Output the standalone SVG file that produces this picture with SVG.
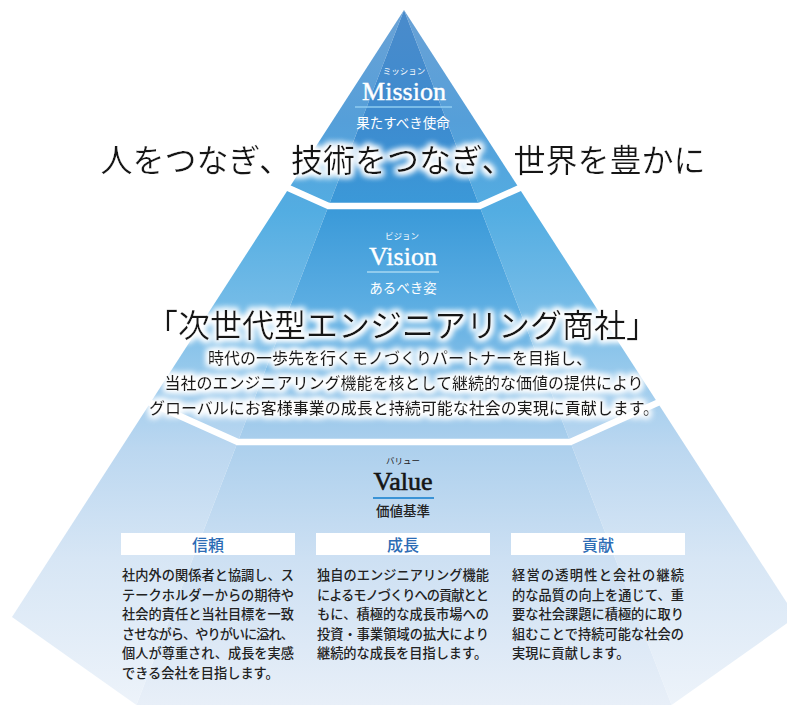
<svg xmlns="http://www.w3.org/2000/svg" width="787" height="705" viewBox="0 0 787 705">
<defs>
  <linearGradient id="gFront" gradientUnits="userSpaceOnUse" x1="0" y1="10" x2="0" y2="705">
    <stop offset="0" stop-color="#4a8bcb"/>
    <stop offset="0.16" stop-color="#3d8bcf"/>
    <stop offset="0.29" stop-color="#3b9ad9"/>
    <stop offset="0.42" stop-color="#5badE2"/>
    <stop offset="0.56" stop-color="#95c6ea"/>
    <stop offset="0.63" stop-color="#add0ed"/>
    <stop offset="0.79" stop-color="#cde0f3"/>
    <stop offset="1" stop-color="#e8eff8"/>
  </linearGradient>
  <linearGradient id="gSide" gradientUnits="userSpaceOnUse" x1="0" y1="10" x2="0" y2="705">
    <stop offset="0" stop-color="#6aa2d6"/>
    <stop offset="0.16" stop-color="#559fd9"/>
    <stop offset="0.29" stop-color="#53ade2"/>
    <stop offset="0.42" stop-color="#73bbe7"/>
    <stop offset="0.56" stop-color="#a6cfee"/>
    <stop offset="0.63" stop-color="#bbd7f0"/>
    <stop offset="0.79" stop-color="#d7e6f5"/>
    <stop offset="1" stop-color="#edf3fa"/>
  </linearGradient>
  <filter id="glow" x="-10%" y="-60%" width="120%" height="220%">
    <feMorphology in="SourceAlpha" operator="dilate" radius="1.5" result="d"/>
    <feGaussianBlur in="d" stdDeviation="3" result="b"/>
    <feFlood flood-color="#ffffff"/>
    <feComposite in2="b" operator="in" result="g"/>
    <feMerge><feMergeNode in="g"/><feMergeNode in="g"/><feMergeNode in="SourceGraphic"/></feMerge>
  </filter>
  <style>
    .jp{font-family:"Noto Sans CJK JP","Noto Sans CJK SC",sans-serif;}
    .lat{font-family:"Liberation Serif","DejaVu Serif",serif;}
    .ruby{font-size:8.5px;text-anchor:middle;}
    .lbl{font-size:26px;text-anchor:middle;}
    .sub{font-size:13.5px;text-anchor:middle;}
    .head{font-size:32px;fill:#151515;text-anchor:middle;}
    .desc{font-size:16px;fill:#1a1a1a;text-anchor:middle;font-weight:500;}
    .sep{fill:none;stroke:#ffffff;stroke-width:6.5;stroke-linejoin:miter;}
    .box{fill:#ffffff;}
    .ttl{font-size:16px;fill:#2c6cb5;text-anchor:middle;font-weight:500;}
    .body{font-size:13.2px;fill:#222222;font-weight:500;}
  </style>
</defs>
<rect width="787" height="705" fill="#ffffff"/>

<g id="pyramid">
  <polygon points="404,10 12,617 136.4,705" fill="url(#gSide)"/>
  <polygon points="404,10 796,617 671.6,705" fill="url(#gSide)"/>
  <polygon points="404,10 136.4,705 671.6,705" fill="url(#gFront)"/>
  <polyline class="sep" points="280.9,184.6 288.9,188.2 328.5,206 479.5,206 519.1,188.2 527.1,184.6"/>
  <polyline class="sep" points="142.3,399.1 150.3,402.7 237.7,442 570.3,442 657.7,402.7 665.7,399.1"/>
</g>

<g id="tier-mission">
  <text class="jp ruby" x="404" y="74" fill="#ffffff">ミッション</text>
  <text class="lat lbl" x="404" y="100" fill="#ffffff" stroke="#ffffff" stroke-width="0.4">Mission</text>
  <line x1="355" y1="107" x2="452" y2="107" stroke="#8fcdf0" stroke-width="1.5"/>
  <text class="jp sub" x="403" y="128" fill="#ffffff">果たすべき使命</text>
  <text class="jp head" x="403" y="172" filter="url(#glow)">人をつなぎ、技術をつなぎ、世界を豊かに</text>
</g>

<g id="tier-vision">
  <text class="jp ruby" x="402" y="239" fill="#ffffff">ビジョン</text>
  <text class="lat lbl" x="403" y="265" fill="#ffffff" stroke="#ffffff" stroke-width="0.4">Vision</text>
  <line x1="367" y1="272" x2="439" y2="272" stroke="#a6d7f2" stroke-width="1.5"/>
  <text class="jp sub" x="403" y="293" fill="#ffffff">あるべき姿</text>
  <text class="jp head" x="402" y="337" filter="url(#glow)">「次世代型エンジニアリング商社」</text>
  <text class="jp desc" x="400" y="364" filter="url(#glow)">時代の一歩先を行くモノづくりパートナーを目指し、</text>
  <text class="jp desc" x="404" y="389" filter="url(#glow)">当社のエンジニアリング機能を核として継続的な価値の提供により</text>
  <text class="jp desc" x="404" y="414" filter="url(#glow)">グローバルにお客様事業の成長と持続可能な社会の実現に貢献します。</text>
</g>

<g id="tier-value">
  <text class="jp ruby" x="403" y="464" fill="#222222">バリュー</text>
  <text class="lat lbl" x="403" y="490" fill="#151515" font-size="25" stroke="#151515" stroke-width="0.6">Value</text>
  <line x1="373" y1="498" x2="434" y2="498" stroke="#3a93d6" stroke-width="2"/>
  <text class="jp sub" x="403" y="516" fill="#222222" font-size="14" font-weight="500">価値基準</text>
</g>

<g id="box-trust">
  <rect class="box" x="121" y="533" width="174" height="22"/>
  <text class="jp ttl" x="208" y="551">信頼</text>
  <text class="jp body" x="122" y="580" textLength="172" lengthAdjust="spacing">社内外の関係者と協調し、ス</text>
  <text class="jp body" x="122" y="599.5" textLength="172" lengthAdjust="spacing">テークホルダーからの期待や</text>
  <text class="jp body" x="122" y="619" textLength="172" lengthAdjust="spacing">社会的責任と当社目標を一致</text>
  <text class="jp body" x="122" y="638.5" textLength="172" lengthAdjust="spacing">させながら、やりがいに溢れ、</text>
  <text class="jp body" x="122" y="658" textLength="172" lengthAdjust="spacing">個人が尊重され、成長を実感</text>
  <text class="jp body" x="122" y="677.5">できる会社を目指します。</text>
</g>

<g id="box-growth">
  <rect class="box" x="316" y="533" width="174" height="22"/>
  <text class="jp ttl" x="403" y="551">成長</text>
  <text class="jp body" x="317" y="580" textLength="172" lengthAdjust="spacing">独自のエンジニアリング機能</text>
  <text class="jp body" x="317" y="599.5" textLength="172" lengthAdjust="spacing">によるモノづくりへの貢献とと</text>
  <text class="jp body" x="317" y="619" textLength="172" lengthAdjust="spacing">もに、積極的な成長市場への</text>
  <text class="jp body" x="317" y="638.5" textLength="172" lengthAdjust="spacing">投資・事業領域の拡大により</text>
  <text class="jp body" x="317" y="658">継続的な成長を目指します。</text>
</g>

<g id="box-contribution">
  <rect class="box" x="511" y="533" width="174" height="22"/>
  <text class="jp ttl" x="598" y="551">貢献</text>
  <text class="jp body" x="512" y="580" textLength="172" lengthAdjust="spacing">経営の透明性と会社の継続</text>
  <text class="jp body" x="512" y="599.5" textLength="172" lengthAdjust="spacing">的な品質の向上を通じて、重</text>
  <text class="jp body" x="512" y="619" textLength="172" lengthAdjust="spacing">要な社会課題に積極的に取り</text>
  <text class="jp body" x="512" y="638.5" textLength="172" lengthAdjust="spacing">組むことで持続可能な社会の</text>
  <text class="jp body" x="512" y="658">実現に貢献します。</text>
</g>
</svg>
